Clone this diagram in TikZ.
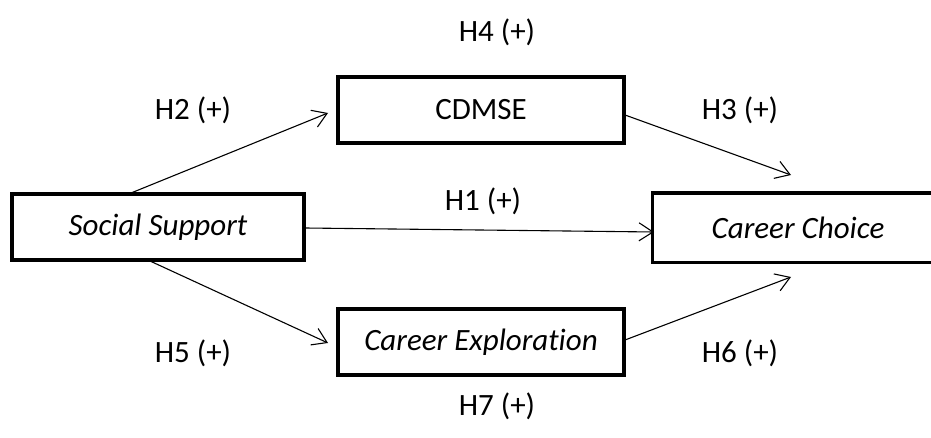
\documentclass[tikz,border=0pt]{standalone}
\usepackage{fontspec}
\setmainfont[Ligatures={NoCommon,NoRequired,NoContextual}]{Carlito}
\usetikzlibrary{arrows.meta}
\begin{document}
\begin{tikzpicture}[x=1pt,y=-1pt,
  boxnode/.style={draw,line width=3.5pt,minimum height=66pt,inner sep=0pt,font=\fontsize{31}{36}\selectfont},
  openbox/.style={boxnode,draw=none},
  lab/.style={font=\fontsize{31}{36}\selectfont,inner sep=0pt},
  conn/.style={line width=1.1pt,-{Straight Barb[length=14pt,width=18pt,line width=1.1pt]}}]
\clip (0,0) rectangle (931,438);
\useasboundingbox (0,0) rectangle (931,438);
\node[boxnode,minimum width=292pt] (ss) at (158,227) {\itshape Social Support};
\node[boxnode,minimum width=286pt] (cd) at (481,110) {CDMSE};
\node[boxnode,minimum width=286pt] (ce) at (481,342) {\itshape Career Exploration};
\node[openbox,minimum width=310pt] (cc) at (809,228) {\hspace*{-22pt}\itshape Career Choice};
\draw[line width=3.5pt] ([xshift=10pt]cc.north east) -- (cc.north west) -- (cc.south west) -- ([xshift=10pt]cc.south east);
\coordinate (s2) at (131,193);
\coordinate (t2) at (328,113);
\coordinate (s5) at (150,261);
\coordinate (t5) at (328,343);
\coordinate (s3) at (625,115);
\coordinate (t3) at (791,175);
\coordinate (s6) at (625,340);
\coordinate (t6) at (791,277);
\coordinate (s1) at (305,228);
\coordinate (t1) at (654,232);
\draw[conn] (s2) -- (t2);
\draw[conn] (s5) -- (t5);
\draw[conn] (s3) -- (t3);
\draw[conn] (s6) -- (t6);
\draw[conn] (s1) -- (t1);
\node[lab] (h4) at (497,32) {H4 (+)};
\node[lab] (h2) at (193,110) {H2 (+)};
\node[lab] (h3) at (740,110) {H3 (+)};
\node[lab] (h1) at (483,201) {H1 (+)};
\node[lab] (h5) at (193,353) {H5 (+)};
\node[lab] (h6) at (740,353) {H6 (+)};
\node[lab] (h7) at (497,406) {H7 (+)};
\end{tikzpicture}
\end{document}
